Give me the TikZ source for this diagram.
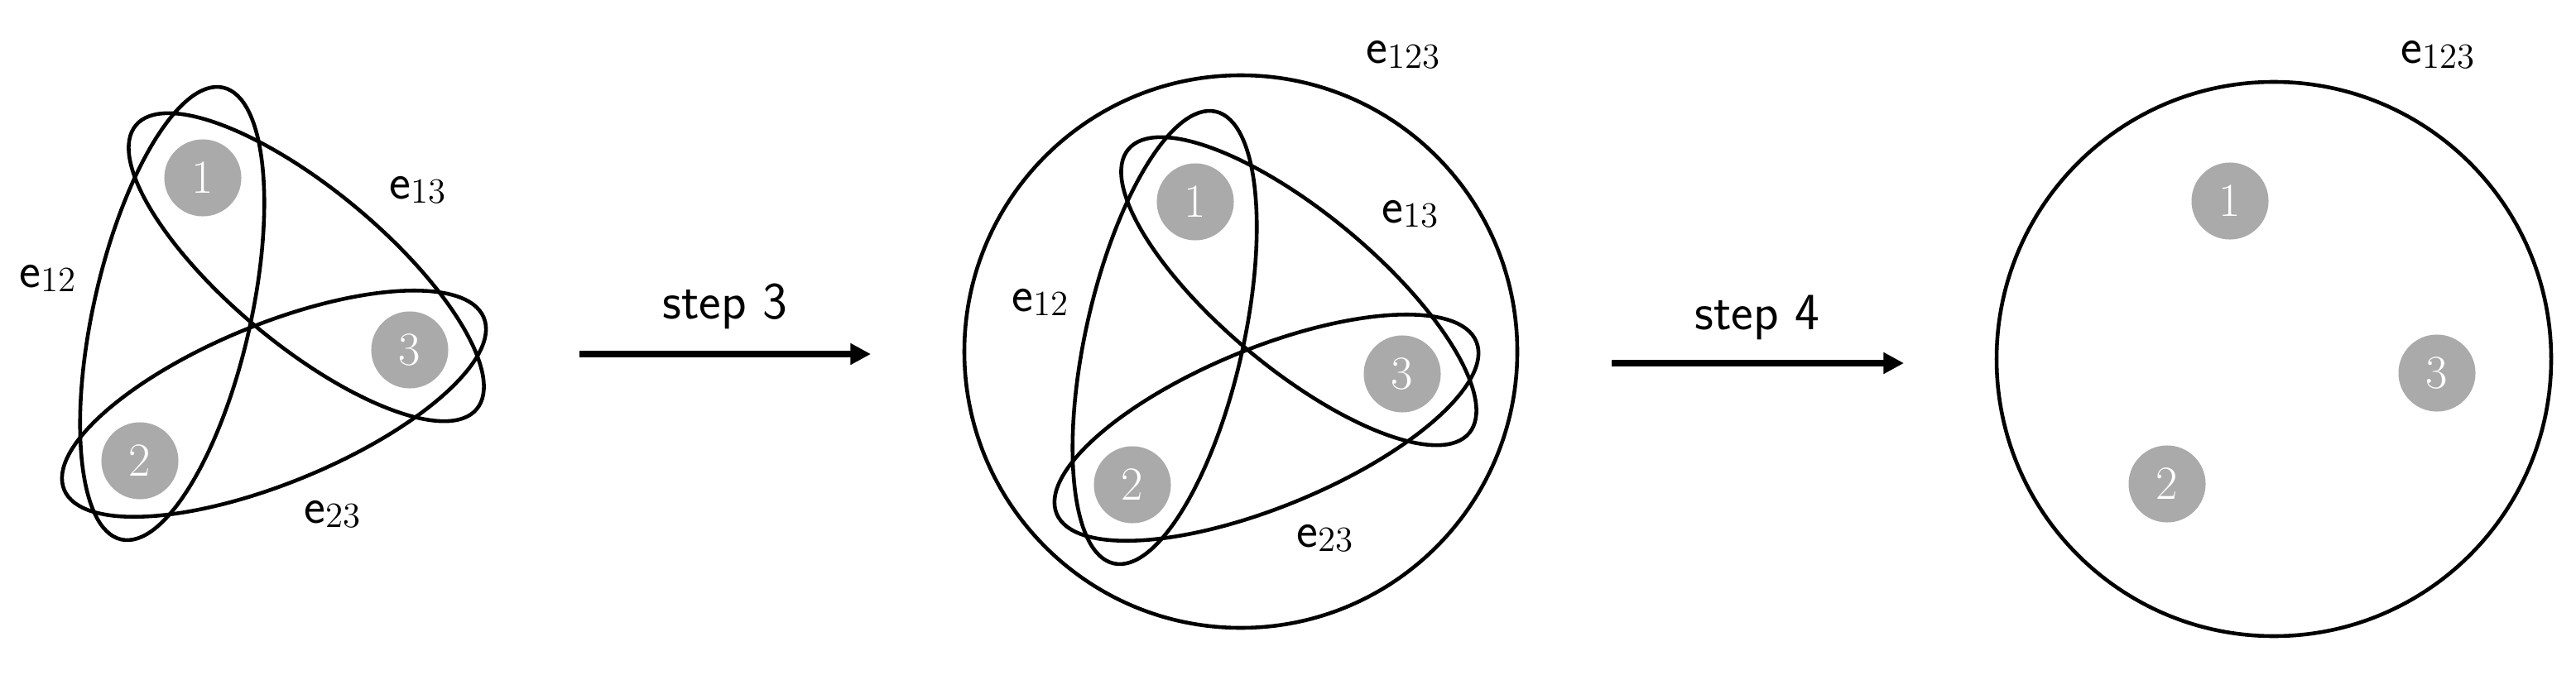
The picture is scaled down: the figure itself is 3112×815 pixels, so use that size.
\documentclass[tikz,border=0pt]{standalone}
\usepackage{fontspec}
\usepackage{tikz}
\usetikzlibrary{arrows.meta}

\definecolor{vgray}{RGB}{170,170,170}
\newcommand{\elab}[1]{{\sffamily e}\raisebox{-1.5pt}{\fontsize{12.2}{12}\selectfont #1}}

\begin{document}
\begin{tikzpicture}[x=0.01cm, y=0.01cm,
    vtx/.style={circle, fill=vgray, inner sep=0pt, minimum size=0.93cm, text=white, font=\fontsize{16.3}{18}\selectfont},
    hedge/.style={line width=1.3pt},
    elabel/.style={anchor=base west, inner sep=0pt, font=\fontsize{17.5}{20}\selectfont},
    stepline/.style={line width=2.3pt, -{Triangle[length=7pt, width=7pt]}},
    steplabel/.style={anchor=base, inner sep=0pt, font=\sffamily\fontsize{18}{20}\selectfont}]
    \useasboundingbox (0,0) rectangle (3112,-815);

    \foreach \p/\dx/\dy in {a/0/0, b/1199/-29} {
        \begin{scope}[shift={(\dx,\dy)}]
            \node[vtx] (\p1) at (245,-215) {1};
            \node[vtx] (\p2) at (169,-557) {2};
            \node[vtx] (\p3) at (495,-423) {3};
            \draw[hedge] (208,-379) circle [x radius=280, y radius=95, rotate=77.3];
            \draw[hedge] (370,-323) circle [x radius=268, y radius=94, rotate=-39.8];
            \draw[hedge] (331,-488) circle [x radius=274, y radius=96, rotate=22.3];
            \node[elabel] (\p12) at (23,-347) {\elab{12}};
            \node[elabel] (\p13) at (470,-240) {\elab{13}};
            \node[elabel] (\p23) at (367,-632) {\elab{23}};
        \end{scope}
    }

    \draw[hedge] (1499,-425) circle [radius=334];
    \node[elabel] (b123) at (1650,-77) {\elab{123}};

    \node[vtx] (c1) at (2694,-243) {1};
    \node[vtx] (c2) at (2618,-585) {2};
    \node[vtx] (c3) at (2944,-451) {3};
    \draw[hedge] (2747,-434) circle [radius=335];
    \node[elabel] (c123) at (2900,-77) {\elab{123}};

    \coordinate (s3from) at (700,-428);
    \coordinate (s3to) at (1052,-428);
    \draw[stepline] (s3from) -- (s3to);
    \node[steplabel] (s3) at (876,-385) {step 3};

    \coordinate (s4from) at (1947,-439);
    \coordinate (s4to) at (2300,-439);
    \draw[stepline] (s4from) -- (s4to);
    \node[steplabel] (s4) at (2123,-398) {step 4};
\end{tikzpicture}
\end{document}
